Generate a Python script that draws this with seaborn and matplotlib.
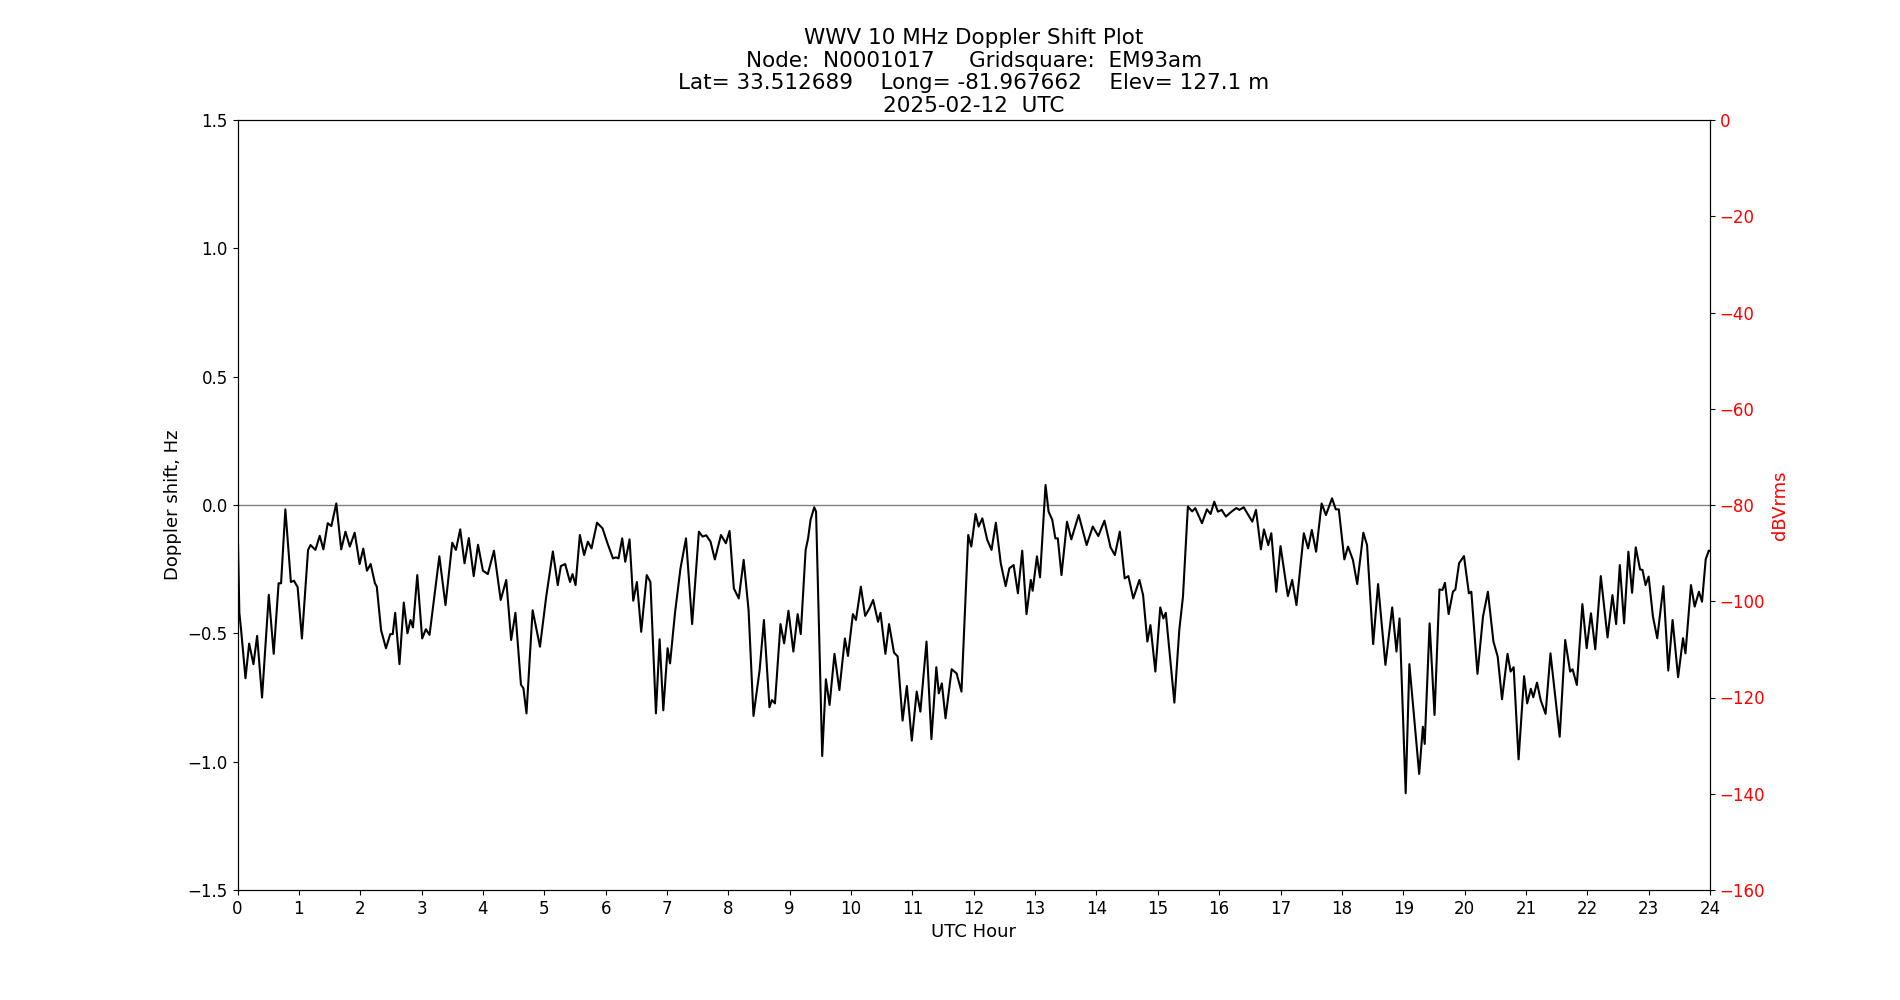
import numpy as np
import pandas as pd
import seaborn as sns
import matplotlib
matplotlib.use("Agg")
import matplotlib.pyplot as plt

# Doppler shift trace (UTC hour, Hz)
hours = [
    0.00, 0.03, 0.06, 0.13, 0.19, 0.26, 0.32, 0.40, 0.51, 0.59, 0.67, 0.71, 0.78, 0.87, 0.92, 0.98,
    1.05, 1.15, 1.19, 1.27, 1.34, 1.40, 1.47, 1.53, 1.61, 1.69, 1.76, 1.83, 1.91, 1.99,
    2.05, 2.11, 2.17, 2.24, 2.27, 2.34, 2.42, 2.49, 2.53, 2.57, 2.64, 2.71, 2.77, 2.82, 2.86, 2.93,
    3.01, 3.07, 3.13, 3.29, 3.39, 3.50, 3.56, 3.63, 3.70, 3.77, 3.85, 3.92,
    4.00, 4.08, 4.18, 4.29, 4.38, 4.46, 4.53, 4.62, 4.66, 4.71, 4.81, 4.93,
    5.03, 5.14, 5.22, 5.27, 5.34, 5.42, 5.46, 5.51, 5.58, 5.65, 5.71, 5.77, 5.86, 5.95,
    6.03, 6.12, 6.17, 6.21, 6.27, 6.32, 6.39, 6.45, 6.51, 6.58, 6.67, 6.73, 6.82, 6.88, 6.94,
    7.01, 7.05, 7.13, 7.22, 7.31, 7.41, 7.52, 7.58, 7.64, 7.71, 7.78, 7.88, 7.96,
    8.02, 8.09, 8.17, 8.25, 8.33, 8.41, 8.51, 8.58, 8.67, 8.71, 8.76, 8.85, 8.91, 8.98,
    9.06, 9.13, 9.18, 9.26, 9.30, 9.34, 9.40, 9.43, 9.53, 9.59, 9.65, 9.73, 9.81, 9.90, 9.95,
    10.03, 10.08, 10.16, 10.23, 10.30, 10.36, 10.44, 10.48, 10.56, 10.62, 10.70, 10.76, 10.84, 10.91, 10.99,
    11.07, 11.13, 11.23, 11.31, 11.39, 11.43, 11.48, 11.54, 11.64, 11.72, 11.80, 11.91, 11.96,
    12.03, 12.08, 12.14, 12.22, 12.29, 12.36, 12.44, 12.52, 12.58, 12.65, 12.72, 12.79, 12.86, 12.93, 12.96,
    13.03, 13.08, 13.17, 13.22, 13.28, 13.33, 13.37, 13.43, 13.52, 13.59, 13.71, 13.84, 13.94,
    14.03, 14.13, 14.23, 14.30, 14.38, 14.46, 14.52, 14.60, 14.70, 14.76, 14.83, 14.88, 14.96,
    15.04, 15.09, 15.13, 15.27, 15.35, 15.41, 15.49, 15.56, 15.61, 15.72, 15.80, 15.86, 15.92, 15.98,
    16.04, 16.11, 16.20, 16.28, 16.33, 16.40, 16.54, 16.60, 16.68, 16.73, 16.80, 16.85, 16.93,
    17.00, 17.12, 17.19, 17.26, 17.38, 17.45, 17.51, 17.58, 17.67, 17.74, 17.84, 17.90, 17.95,
    18.04, 18.10, 18.18, 18.25, 18.35, 18.41, 18.51, 18.59, 18.71, 18.82, 18.89, 18.94,
    19.04, 19.10, 19.18, 19.26, 19.32, 19.35, 19.43, 19.51, 19.59, 19.64, 19.68, 19.74, 19.81, 19.85, 19.91, 19.99,
    20.07, 20.11, 20.21, 20.30, 20.38, 20.47, 20.54, 20.61, 20.70, 20.75, 20.80, 20.88, 20.97,
    21.02, 21.08, 21.12, 21.18, 21.24, 21.32, 21.40, 21.55, 21.64, 21.72, 21.76, 21.83, 21.92, 21.99,
    22.06, 22.13, 22.22, 22.33, 22.41, 22.47, 22.53, 22.60, 22.67, 22.73, 22.79, 22.86, 22.90, 22.95,
    23.00, 23.07, 23.14, 23.24, 23.32, 23.39, 23.48, 23.56, 23.60, 23.69, 23.75, 23.82, 23.87, 23.93, 23.98, 24.00,
]
doppler = [
    -0.05, -0.42, -0.49, -0.675, -0.54, -0.62, -0.51, -0.75, -0.35, -0.58, -0.305, -0.305, -0.017, -0.30, -0.295, -0.32,
    -0.52, -0.175, -0.156, -0.175, -0.12, -0.173, -0.071, -0.082, 0.006, -0.173, -0.104, -0.162, -0.108, -0.23,
    -0.17, -0.256, -0.23, -0.305, -0.318, -0.487, -0.558, -0.503, -0.503, -0.42, -0.62, -0.38, -0.50, -0.448, -0.477, -0.273,
    -0.52, -0.484, -0.506, -0.20, -0.39, -0.147, -0.175, -0.095, -0.227, -0.129, -0.277, -0.155,
    -0.256, -0.269, -0.178, -0.37, -0.292, -0.526, -0.42, -0.70, -0.714, -0.812, -0.41, -0.552,
    -0.36, -0.181, -0.312, -0.238, -0.23, -0.30, -0.269, -0.312, -0.117, -0.195, -0.143, -0.169, -0.069, -0.091,
    -0.149, -0.208, -0.204, -0.208, -0.13, -0.221, -0.134, -0.373, -0.30, -0.494, -0.273, -0.30, -0.812, -0.523, -0.80,
    -0.558, -0.617, -0.422, -0.247, -0.13, -0.464, -0.104, -0.123, -0.118, -0.143, -0.212, -0.117, -0.149,
    -0.101, -0.325, -0.364, -0.214, -0.41, -0.822, -0.643, -0.448, -0.788, -0.76, -0.773, -0.464, -0.539, -0.412,
    -0.571, -0.425, -0.503, -0.175, -0.13, -0.058, -0.009, -0.026, -0.978, -0.679, -0.779, -0.58, -0.721, -0.52, -0.588,
    -0.425, -0.448, -0.318, -0.432, -0.403, -0.37, -0.455, -0.42, -0.58, -0.464, -0.575, -0.59, -0.84, -0.705, -0.918,
    -0.727, -0.805, -0.532, -0.912, -0.632, -0.734, -0.695, -0.831, -0.64, -0.656, -0.727, -0.117, -0.162,
    -0.035, -0.084, -0.052, -0.136, -0.175, -0.069, -0.227, -0.316, -0.247, -0.234, -0.344, -0.178, -0.425, -0.292, -0.334,
    -0.20, -0.282, 0.078, -0.026, -0.058, -0.13, -0.13, -0.273, -0.065, -0.134, -0.039, -0.156, -0.084,
    -0.121, -0.061, -0.165, -0.195, -0.104, -0.286, -0.277, -0.364, -0.292, -0.351, -0.532, -0.468, -0.649,
    -0.399, -0.442, -0.42, -0.77, -0.487, -0.357, -0.006, -0.025, -0.012, -0.071, -0.017, -0.035, 0.013, -0.026,
    -0.019, -0.045, -0.026, -0.012, -0.019, -0.009, -0.065, -0.019, -0.173, -0.095, -0.156, -0.11, -0.338,
    -0.16, -0.355, -0.292, -0.39, -0.11, -0.169, -0.097, -0.182, 0.006, -0.039, 0.026, -0.017, -0.017,
    -0.212, -0.162, -0.214, -0.308, -0.108, -0.156, -0.542, -0.308, -0.623, -0.399, -0.571, -0.442,
    -1.123, -0.62, -0.835, -1.048, -0.864, -0.931, -0.461, -0.818, -0.329, -0.331, -0.303, -0.425, -0.338, -0.329, -0.227, -0.199,
    -0.344, -0.338, -0.658, -0.435, -0.338, -0.532, -0.591, -0.757, -0.58, -0.649, -0.632, -0.991, -0.667,
    -0.773, -0.716, -0.749, -0.692, -0.76, -0.814, -0.578, -0.903, -0.526, -0.649, -0.64, -0.701, -0.386, -0.558,
    -0.422, -0.562, -0.277, -0.516, -0.351, -0.464, -0.234, -0.461, -0.182, -0.342, -0.165, -0.251, -0.253, -0.312,
    -0.279, -0.435, -0.519, -0.316, -0.645, -0.448, -0.671, -0.519, -0.578, -0.312, -0.396, -0.338, -0.377, -0.212, -0.178, -0.178,
]

titleText = ("WWV 10 MHz Doppler Shift Plot\n"
             "Node:  N0001017     Gridsquare:  EM93am\n"
             "Lat= 33.512689    Long= -81.967662    Elev= 127.1 m\n"
             "2025-02-12  UTC")
xTicks = list(range(0, 25))
yTicks = [-1.5, -1.0, -0.5, 0.0, 0.5, 1.0, 1.5]
dbTicks = [0, -20, -40, -60, -80, -100, -120, -140, -160]

df = pd.DataFrame({"hour": hours, "doppler": doppler})

# Plot
plt.rcParams["font.family"] = ["DejaVu Sans"]
fig, ax = plt.subplots(figsize=(19, 10), dpi=100)
ax.axhline(0, color="grey", linewidth=1)
sns.lineplot(data=df, x="hour", y="doppler", ax=ax, color="black",
             linewidth=1.5, estimator=None, sort=False)
ax.set_xlim(0, 24)
ax.set_ylim(-1.5, 1.5)
ax.set_xticks(xTicks)
ax.set_yticks(yTicks)
ax.tick_params(labelsize=12)
ax.set_xlabel("UTC Hour", fontsize=13)
ax.set_ylabel("Doppler shift, Hz", fontsize=13)
ax.set_title(titleText, fontsize=15.5, linespacing=1.15)

ax2 = ax.twinx()
ax2.set_ylim(-160, 0)
ax2.set_yticks(dbTicks)
ax2.tick_params(axis="y", labelcolor="red", labelsize=12)
ax2.set_ylabel("dBVrms", color="red", fontsize=13)

fig.savefig("out.png", dpi=100)
